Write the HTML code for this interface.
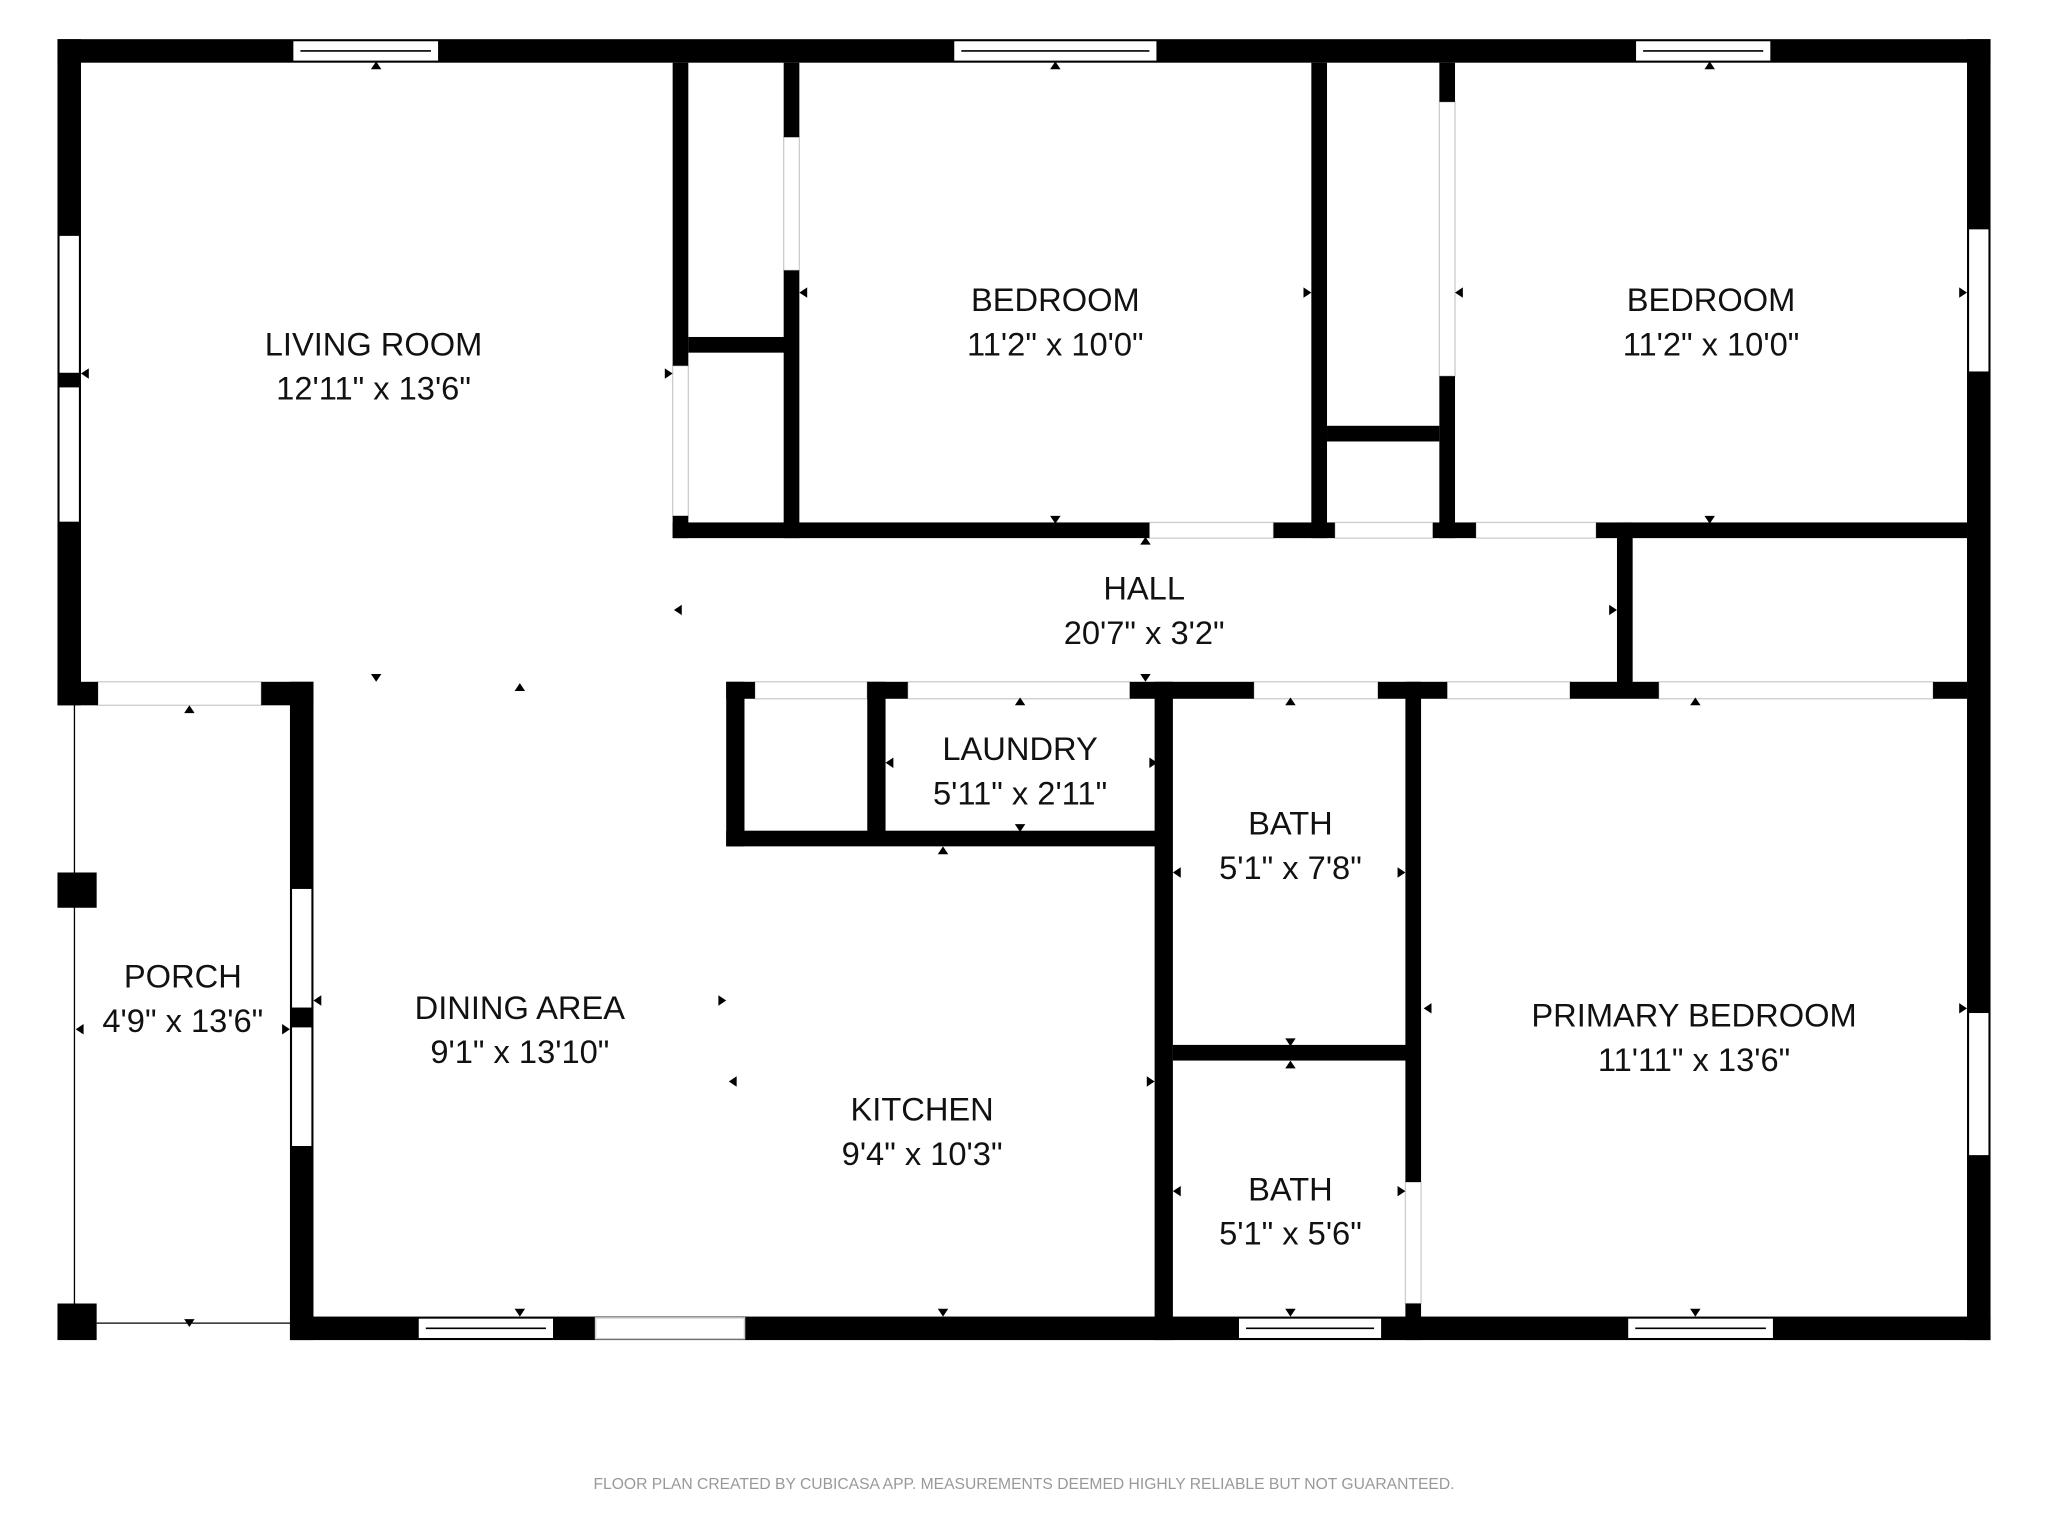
<!DOCTYPE html>
<html><head><meta charset="utf-8"><style>
html,body{margin:0;padding:0;background:#fff;}
svg{display:block;}
text{font-family:"Liberation Sans Narrow","Liberation Sans",sans-serif;fill:#111;text-anchor:middle;}
</style></head><body>
<svg width="2048" height="1536" viewBox="0 0 1568 1176" xmlns="http://www.w3.org/2000/svg">
<rect width="1568" height="1176" fill="#fff"/>
<!-- door opening outlines -->
<g fill="none" stroke="#ccc" stroke-width="1">
<rect x="515" y="280" width="12" height="115"/>
<rect x="600" y="105" width="12" height="102"/>
<rect x="1102" y="78" width="12" height="210"/>
<rect x="880" y="400" width="95" height="12"/>
<rect x="1022" y="400" width="75" height="12"/>
<rect x="1130" y="400" width="92" height="12"/>
<rect x="578" y="522" width="86" height="13"/>
<rect x="695" y="522" width="170" height="13"/>
<rect x="960" y="522" width="95" height="13"/>
<rect x="1108" y="522" width="94" height="13"/>
<rect x="1270" y="522" width="210" height="13"/>
<rect x="75" y="522" width="125" height="18"/>
<rect x="1076" y="905" width="12" height="93"/>
</g>
<g fill="#000">
<rect x="44" y="30" width="1480" height="18"/>
<rect x="44" y="30" width="18" height="510"/>
<rect x="1506" y="30" width="18" height="996"/>
<rect x="222" y="1008" width="1302" height="18"/>
<rect x="222" y="522" width="18" height="504"/>
<rect x="44" y="522" width="31" height="18"/>
<rect x="200" y="522" width="40" height="18"/>
<rect x="44" y="668" width="30" height="27"/>
<rect x="44" y="998" width="30" height="28"/>
<rect x="515" y="48" width="12" height="232"/>
<rect x="515" y="395" width="12" height="17"/>
<rect x="527" y="258" width="78" height="12"/>
<rect x="600" y="48" width="12" height="57"/>
<rect x="600" y="207" width="12" height="205"/>
<rect x="515" y="400" width="365" height="12"/>
<rect x="975" y="400" width="47" height="12"/>
<rect x="1097" y="400" width="33" height="12"/>
<rect x="1222" y="400" width="284" height="12"/>
<rect x="1004" y="48" width="12" height="364"/>
<rect x="1102" y="48" width="12" height="30"/>
<rect x="1102" y="288" width="12" height="124"/>
<rect x="1016" y="326" width="86" height="12"/>
<rect x="1238" y="400" width="12" height="130"/>
<rect x="556" y="522" width="22" height="13"/>
<rect x="664" y="522" width="31" height="13"/>
<rect x="865" y="522" width="95" height="13"/>
<rect x="1055" y="522" width="53" height="13"/>
<rect x="1202" y="522" width="68" height="13"/>
<rect x="1480" y="522" width="26" height="13"/>
<rect x="556" y="522" width="14" height="126"/>
<rect x="664" y="522" width="14" height="118"/>
<rect x="556" y="636" width="339" height="12"/>
<rect x="884" y="522" width="14" height="504"/>
<rect x="1076" y="522" width="12" height="383"/>
<rect x="1076" y="998" width="12" height="28"/>
<rect x="898" y="800" width="184" height="12"/>
</g>
<g fill="#fff" stroke="#000" stroke-width="1.2">
<rect x="224" y="31" width="112" height="16"/><line x1="230" y1="39" x2="330" y2="39"/>
<rect x="730" y="31" width="156" height="16"/><line x1="736" y1="39" x2="880" y2="39"/>
<rect x="1252" y="31" width="104" height="16"/><line x1="1258" y1="39" x2="1350" y2="39"/>
<rect x="45" y="180" width="16" height="106"/><rect x="45" y="296" width="16" height="104"/>
<rect x="1507" y="175" width="16" height="110"/><rect x="1507" y="775" width="16" height="110"/>
<rect x="320" y="1009" width="104" height="16"/><line x1="326" y1="1017" x2="418" y2="1017"/>
<rect x="948" y="1009" width="110" height="16"/><line x1="954" y1="1017" x2="1052" y2="1017"/>
<rect x="1246" y="1009" width="112" height="16"/><line x1="1252" y1="1017" x2="1352" y2="1017"/>
<rect x="223" y="680" width="16" height="92"/><rect x="223" y="786" width="16" height="92"/>
<rect x="456" y="1009" width="114" height="16" stroke="#ccc"/>
</g>
<g stroke="#000" stroke-width="2"><line x1="45" y1="290" x2="61" y2="290"/><line x1="223" y1="778" x2="239" y2="778"/></g>
<g stroke="#000" stroke-width="1"><line x1="57" y1="540" x2="57" y2="1000"/><line x1="74" y1="1013" x2="222" y2="1013"/></g>
<!-- small triangles -->
<g fill="#000">
<path d="M284,53 l4,-6 l4,6z"/><path d="M804,53 l4,-6 l4,6z"/><path d="M1305,53 l4,-6 l4,6z"/>
<path d="M804,395 l4,6 l4,-6z"/><path d="M1305,395 l4,6 l4,-6z"/>
<path d="M873,417 l4,-6 l4,6z"/><path d="M873,516 l4,6 l4,-6z"/>
<path d="M777,540 l4,-6 l4,6z"/><path d="M777,631 l4,6 l4,-6z"/>
<path d="M984,540 l4,-6 l4,6z"/><path d="M1294,540 l4,-6 l4,6z"/>
<path d="M141,546 l4,-6 l4,6z"/><path d="M141,1010 l4,6 l4,-6z"/>
<path d="M284,516 l4,6 l4,-6z"/><path d="M394,529 l4,-6 l4,6z"/>
<path d="M718,654 l4,-6 l4,6z"/><path d="M718,1002 l4,6 l4,-6z"/>
<path d="M394,1002 l4,6 l4,-6z"/><path d="M984,1002 l4,6 l4,-6z"/><path d="M1294,1002 l4,6 l4,-6z"/>
<path d="M984,795 l4,6 l4,-6z"/><path d="M984,818 l4,-6 l4,6z"/>
<path d="M618,220 l-6,4 l6,4z"/><path d="M998,220 l6,4 l-6,4z"/>
<path d="M1120,220 l-6,4 l6,4z"/><path d="M1500,220 l6,4 l-6,4z"/>
<path d="M68,282 l-6,4 l6,4z"/><path d="M509,282 l6,4 l-6,4z"/>
<path d="M522,463 l-6,4 l6,4z"/><path d="M1232,463 l6,4 l-6,4z"/>
<path d="M684,580 l-6,4 l6,4z"/><path d="M880,580 l6,4 l-6,4z"/>
<path d="M904,664 l-6,4 l6,4z"/><path d="M1070,664 l6,4 l-6,4z"/>
<path d="M904,908 l-6,4 l6,4z"/><path d="M1070,908 l6,4 l-6,4z"/>
<path d="M1096,768 l-6,4 l6,4z"/><path d="M1500,768 l6,4 l-6,4z"/>
<path d="M246,762 l-6,4 l6,4z"/><path d="M550,762 l6,4 l-6,4z"/>
<path d="M64,784 l-6,4 l6,4z"/><path d="M216,784 l6,4 l-6,4z"/>
<path d="M564,824 l-6,4 l6,4z"/><path d="M878,824 l6,4 l-6,4z"/>
</g>
<g font-size="25">
<text x="286" y="272">LIVING ROOM</text><text x="286" y="306">12'11" x 13'6"</text>
<text x="808" y="238">BEDROOM</text><text x="808" y="272">11'2" x 10'0"</text>
<text x="1310" y="238">BEDROOM</text><text x="1310" y="272">11'2" x 10'0"</text>
<text x="876" y="459">HALL</text><text x="876" y="493">20'7" x 3'2"</text>
<text x="781" y="582">LAUNDRY</text><text x="781" y="616">5'11" x 2'11"</text>
<text x="988" y="639">BATH</text><text x="988" y="673">5'1" x 7'8"</text>
<text x="988" y="919">BATH</text><text x="988" y="953">5'1" x 5'6"</text>
<text x="140" y="756">PORCH</text><text x="140" y="790">4'9" x 13'6"</text>
<text x="398" y="780">DINING AREA</text><text x="398" y="814">9'1" x 13'10"</text>
<text x="706" y="858">KITCHEN</text><text x="706" y="892">9'4" x 10'3"</text>
<text x="1297" y="786">PRIMARY BEDROOM</text><text x="1297" y="820">11'11" x 13'6"</text>
</g>
<text x="784" y="1140" font-size="12" style="fill:#999">FLOOR PLAN CREATED BY CUBICASA APP. MEASUREMENTS DEEMED HIGHLY RELIABLE BUT NOT GUARANTEED.</text>
</svg>
</body></html>
